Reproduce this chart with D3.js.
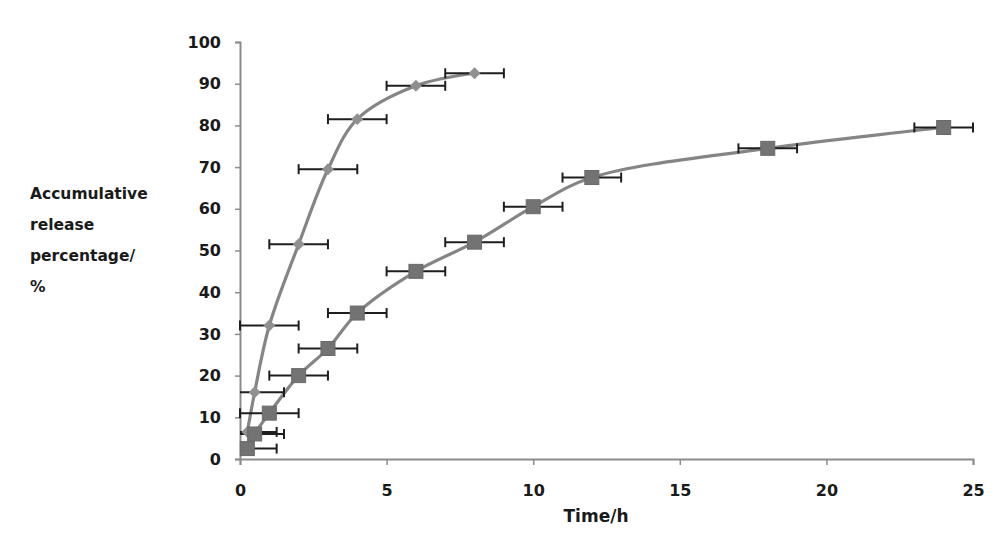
<!DOCTYPE html>
<html>
<head>
<meta charset="utf-8">
<script src="https://cdn.jsdelivr.net/npm/d3@7/dist/d3.min.js"></script>
<style>
  html, body { margin: 0; padding: 0; background: #fff; }
  svg text { font-family: "DejaVu Sans", sans-serif; font-weight: bold; fill: #1a1a1a; }
</style>
</head>
<body>
<svg id="chart" width="1000" height="546"></svg>
<script>
// ---- data ----
const fastTime    = [0.25, 0.5, 1, 2, 3, 4, 6, 8];
const fastRelease = [6.5, 16, 32, 51.5, 69.5, 81.5, 89.5, 92.5];
const slowTime    = [0.25, 0.5, 1, 2, 3, 4, 6, 8, 10, 12, 18, 24];
const slowRelease = [2.5, 6, 11, 20, 26.5, 35, 45, 52, 60.5, 67.5, 74.5, 79.5];
const timeError   = 1;   // horizontal error (h)
const xTicks = [0, 5, 10, 15, 20, 25];
const yTicks = [0, 10, 20, 30, 40, 50, 60, 70, 80, 90, 100];
const yLabelLines = ["Accumulative", "release", "percentage/", "%"];
const xLabel = "Time/h";

const svg = d3.select("#chart");
const x = d3.scaleLinear().domain([0, 25]).range([240, 973]);
const y = d3.scaleLinear().domain([0, 100]).range([459, 42]);

const axisColor = "#8c8c8c";

// axes
const xAxis = svg.append("g").attr("transform", `translate(0,${y(0)})`)
  .call(d3.axisBottom(x).tickValues(xTicks).tickSize(6).tickPadding(20).tickFormat(d3.format("d")));
const yAxis = svg.append("g").attr("transform", `translate(${x(0)},0)`)
  .call(d3.axisLeft(y).tickValues(yTicks).tickSize(5).tickPadding(14).tickFormat(d3.format("d")));
[xAxis, yAxis].forEach(g => {
  g.select(".domain").attr("stroke", axisColor).attr("stroke-width", 2);
  g.selectAll(".tick line").attr("stroke", axisColor).attr("stroke-width", 1.5);
  g.selectAll(".tick text").attr("font-size", 16).style("font-family", "'DejaVu Sans', sans-serif").style("fill", "#1a1a1a");
});

// axis labels
svg.append("text").attr("x", 596).attr("y", 522).attr("text-anchor", "middle")
  .attr("font-size", 17).text(xLabel);
svg.append("text").attr("font-size", 15.5).selectAll("tspan").data(yLabelLines).join("tspan")
  .attr("x", 30).attr("y", (d, i) => 199 + i * 31).text(d => d);

const lineGen = d3.line().curve(d3.curveCatmullRom.alpha(0.5))
  .x(d => x(d[0])).y(d => y(d[1]));

const series = [
  { t: fastTime, v: fastRelease, marker: "diamond" },
  { t: slowTime, v: slowRelease, marker: "square" }
];

series.forEach(s => {
  const pts = s.t.map((t, i) => [t, s.v[i]]);
  svg.append("path").datum(pts).attr("d", lineGen)
    .attr("fill", "none").attr("stroke", "#858585").attr("stroke-width", 3.2);
});

series.forEach(s => {
  const pts = s.t.map((t, i) => [t, s.v[i]]);
  const g = svg.append("g");
  pts.forEach(([t, v]) => {
    const x0 = Math.max(0, t - timeError), x1 = t + timeError;
    const yy = y(v);
    g.append("line").attr("x1", x(x0)).attr("x2", x(x1)).attr("y1", yy).attr("y2", yy)
      .attr("stroke", "#1e1e1e").attr("stroke-width", 2);
    if (t - timeError >= 0)
      g.append("line").attr("x1", x(x0)).attr("x2", x(x0)).attr("y1", yy - 5).attr("y2", yy + 5)
        .attr("stroke", "#1e1e1e").attr("stroke-width", 2);
    g.append("line").attr("x1", x(x1)).attr("x2", x(x1)).attr("y1", yy - 5).attr("y2", yy + 5)
      .attr("stroke", "#1e1e1e").attr("stroke-width", 2);
  });
});

series.forEach(s => {
  const pts = s.t.map((t, i) => [t, s.v[i]]);
  const g = svg.append("g");
  if (s.marker === "square") {
    g.selectAll("rect").data(pts).join("rect")
      .attr("x", d => x(d[0]) - 7).attr("y", d => y(d[1]) - 7)
      .attr("width", 14).attr("height", 14)
      .attr("fill", "#737373").attr("stroke", "#6a6a6a");
  } else {
    g.selectAll("path").data(pts).join("path")
      .attr("d", d3.symbol().type(d3.symbolDiamond2).size(90))
      .attr("transform", d => `translate(${x(d[0])},${y(d[1])})`)
      .attr("fill", "#909090");
  }
});
</script>
</body>
</html>
